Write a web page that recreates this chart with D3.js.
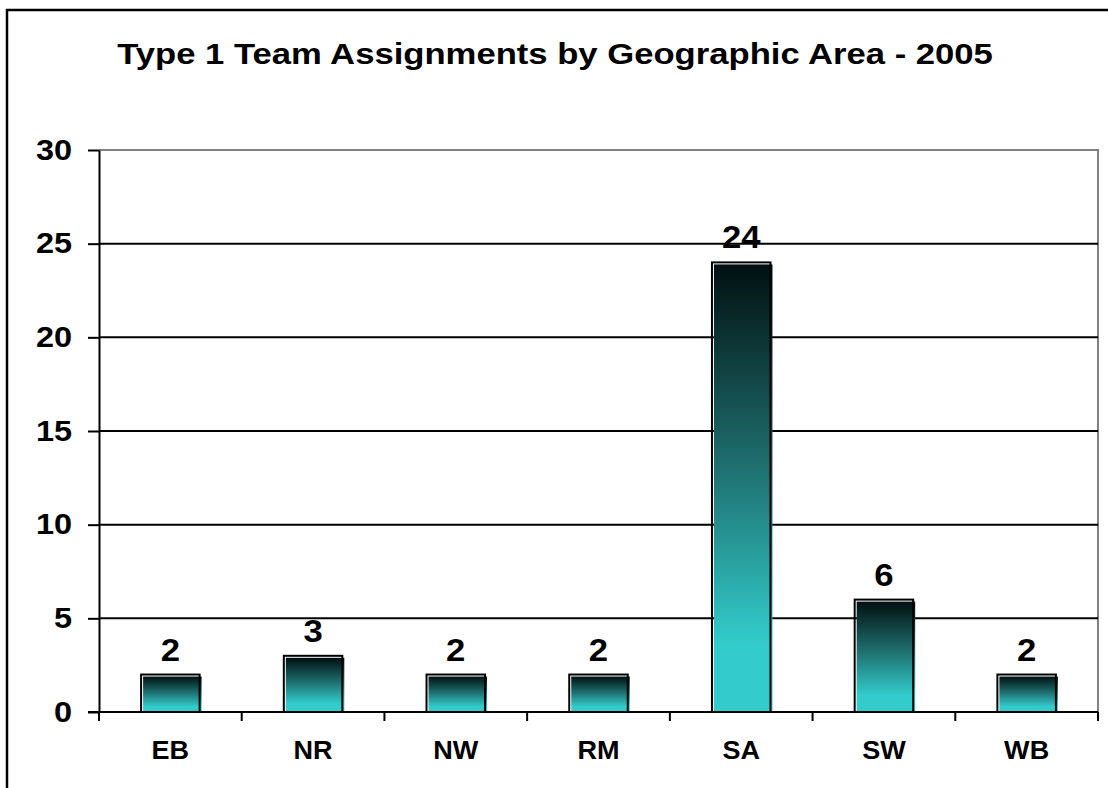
<!DOCTYPE html>
<html>
<head>
<meta charset="utf-8">
<script src="https://cdn.jsdelivr.net/npm/d3@7"></script>
<style>
  body { margin: 0; background: #fff; }
  text { font-family: "Liberation Sans", Arial, sans-serif; font-weight: bold; fill: #000; }
</style>
</head>
<body>
<script>
// chart data
var areas = ["EB", "NR", "NW", "RM", "SA", "SW", "WB"];
var assignments = [2, 3, 2, 2, 24, 6, 2];
var yTicks = [0, 5, 10, 15, 20, 25, 30];
var chartTitle = "Type 1 Team Assignments by Geographic Area - 2005";

var outerWidth = 1108,
    outerHeight = 788,
    plot = {left: 99, right: 1098, top: 150, bottom: 712};

// the original text is a bit wider than the font, so stretch it sideways
function stretch(sel, sx) {
  sel.attr("transform", function() {
    var x = +this.getAttribute("x") || 0,
        y = +this.getAttribute("y") || 0;
    return "translate(" + x + "," + y + ") scale(" + sx + ",1) translate(" + (-x) + "," + (-y) + ")";
  });
}

var svg = d3.select("body").append("svg")
    .attr("width", outerWidth)
    .attr("height", outerHeight);

// chart frame (only left and top edges fall inside the picture)
svg.append("path")
    .attr("d", "M7," + outerHeight + "V10H" + outerWidth)
    .attr("fill", "none")
    .attr("stroke", "#000")
    .attr("stroke-width", 2.5);

var title = svg.append("text")
    .attr("x", 555)
    .attr("y", 64)
    .attr("text-anchor", "middle")
    .style("font-size", "30px")
    .text(chartTitle);
stretch(title, 1.155);

var xScale = d3.scaleBand()
    .domain(areas)
    .range([plot.left, plot.right]);

var yScale = d3.scaleLinear()
    .domain([0, 30])
    .range([plot.bottom, plot.top]);

// gradient for the bars: dark at the top, turquoise at the bottom
var grad = svg.append("defs").append("linearGradient")
    .attr("id", "barFill")
    .attr("x1", 0).attr("y1", 0).attr("x2", 0).attr("y2", 1);
grad.append("stop").attr("offset", "0%").attr("stop-color", "#011010");
grad.append("stop").attr("offset", "45%").attr("stop-color", "#1f6f6f");
grad.append("stop").attr("offset", "85%").attr("stop-color", "#33cccc");
grad.append("stop").attr("offset", "100%").attr("stop-color", "#33cccc");

// plot area border (grey top and right)
svg.append("path")
    .attr("d", "M" + plot.left + "," + plot.top + "H" + plot.right + "V" + plot.bottom)
    .attr("fill", "none")
    .attr("stroke", "#808080")
    .attr("stroke-width", 2);

// gridlines
svg.append("g")
    .selectAll("line")
    .data(yTicks.filter(function(d) { return d > 0 && d < 30; }))
    .enter()
    .append("line")
    .attr("x1", plot.left)
    .attr("x2", plot.right)
    .attr("y1", function(d) { return yScale(d); })
    .attr("y2", function(d) { return yScale(d); })
    .attr("stroke", "#000")
    .attr("stroke-width", 2);

var barW = xScale.bandwidth() * 0.41;

var bars = svg.append("g")
    .selectAll("g")
    .data(assignments)
    .enter()
    .append("g");

// fill shifted a little to give the white edge / shadow look
bars.append("rect")
    .attr("x", function(d, i) { return xScale(areas[i]) + xScale.bandwidth() / 2 - barW / 2 + 2; })
    .attr("y", function(d) { return yScale(d) + 2; })
    .attr("width", barW)
    .attr("height", function(d) { return yScale(0) - yScale(d) - 2; })
    .attr("fill", "url(#barFill)");

bars.append("rect")
    .attr("x", function(d, i) { return xScale(areas[i]) + xScale.bandwidth() / 2 - barW / 2; })
    .attr("y", function(d) { return yScale(d); })
    .attr("width", barW)
    .attr("height", function(d) { return yScale(0) - yScale(d); })
    .attr("fill", "none")
    .attr("stroke", "#000")
    .attr("stroke-width", 2);

var valueLabels = bars.append("text")
    .attr("x", function(d, i) { return xScale(areas[i]) + xScale.bandwidth() / 2; })
    .attr("y", function(d) { return yScale(d) - 14; })
    .attr("text-anchor", "middle")
    .style("font-size", "31px")
    .text(function(d) { return d; });
stretch(valueLabels, 1.12);

// y axis
var yAxis = d3.axisLeft(yScale)
    .tickValues(yTicks)
    .tickSize(11)
    .tickSizeOuter(0)
    .tickPadding(16);

var yg = svg.append("g")
    .attr("transform", "translate(" + plot.left + ",0)")
    .call(yAxis);
yg.selectAll("line, path").attr("stroke", "#000").attr("stroke-width", 2);
yg.selectAll("text").style("font-size", "29px").attr("font-family", null);
stretch(yg.selectAll("text"), 1.12);

// x axis: labels centred, ticks on the category boundaries
var xAxis = d3.axisBottom(xScale)
    .tickSize(0)
    .tickPadding(29);

var xg = svg.append("g")
    .attr("transform", "translate(0," + plot.bottom + ")")
    .call(xAxis);
xg.select(".domain").remove();
xg.selectAll("text").style("font-size", "26px").attr("font-family", null);
stretch(xg.selectAll("text"), 1.04);

var bounds = areas.map(function(a) { return xScale(a); }).concat([plot.right]);
xg.selectAll("line.bound")
    .data(bounds)
    .enter()
    .append("line")
    .attr("class", "bound")
    .attr("x1", function(d) { return d; })
    .attr("x2", function(d) { return d; })
    .attr("y1", 0)
    .attr("y2", 9)
    .attr("stroke", "#000")
    .attr("stroke-width", 2);

xg.append("line")
    .attr("x1", plot.left - 11)
    .attr("x2", plot.right)
    .attr("y1", 0)
    .attr("y2", 0)
    .attr("stroke", "#000")
    .attr("stroke-width", 2);
</script>
</body>
</html>
